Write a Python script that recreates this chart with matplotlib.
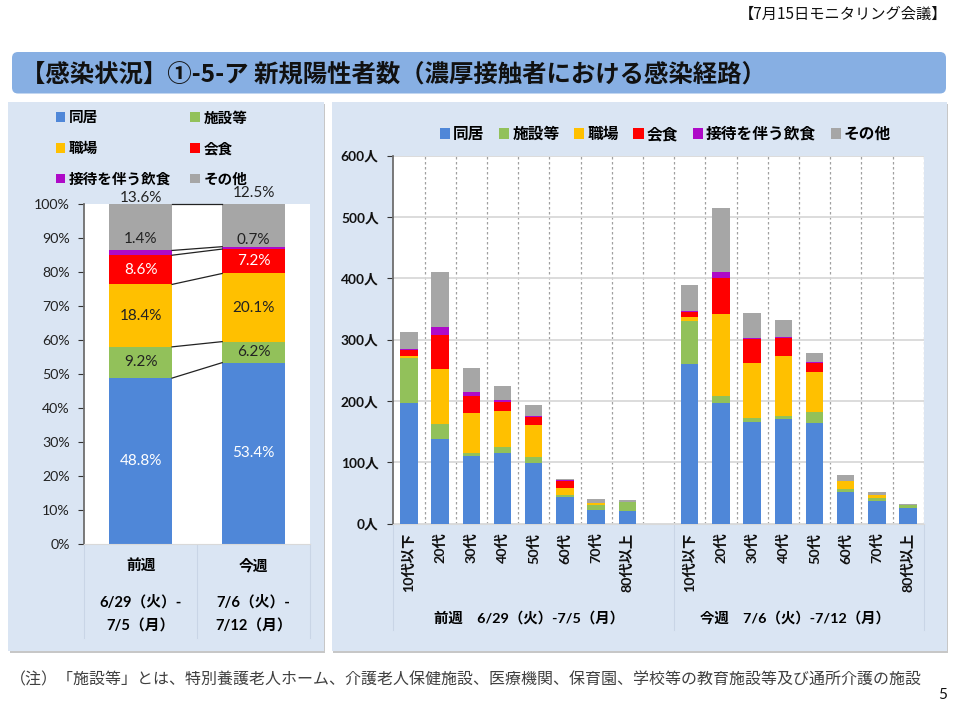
import numpy as np
import matplotlib
matplotlib.use("Agg")
import matplotlib.pyplot as plt
from matplotlib.patches import FancyBboxPatch, Rectangle, Patch

plt.rcParams['font.family'] = ['Lato', 'Noto Sans CJK JP', 'DejaVu Sans']

# ---------- data ----------
series_names = ['同居', '施設等', '職場', '会食', '接待を伴う飲食', 'その他']
series_colors = ['#4F87D8', '#92C15A', '#FFC000', '#FF0000', '#AE0AC8', '#A6A6A6']

share_weeks = ['前週', '今週']
share_prev = [48.8, 9.2, 18.4, 8.6, 1.4, 13.6]
share_curr = [53.4, 6.2, 20.1, 7.2, 0.7, 12.5]

age_labels = ['10代以下', '20代', '30代', '40代', '50代', '60代', '70代', '80代以上']

prev_dokyo = [197, 138, 111, 115, 99, 43, 22, 21]
prev_shisetsu = [73, 24, 4, 10, 9, 4, 8, 15]
prev_shokuba = [3, 90, 65, 59, 53, 12, 4, 0]
prev_kaishoku = [11, 55, 29, 15, 13, 11, 0, 0]
prev_settai = [1, 14, 6, 2, 1, 1, 0, 0]
prev_other = [27, 89, 39, 23, 18, 2, 6, 3]

curr_dokyo = [261, 196, 166, 170, 165, 52, 37, 25]
curr_shisetsu = [70, 13, 7, 5, 17, 5, 5, 5]
curr_shokuba = [6, 133, 89, 99, 66, 12, 4, 0]
curr_kaishoku = [8, 59, 39, 29, 14, 0, 0, 0]
curr_settai = [1, 9, 2, 1, 2, 0, 0, 0]
curr_other = [43, 104, 40, 28, 15, 10, 6, 2]

# ---------- figure ----------
W, H = 955, 710
fig = plt.figure(figsize=(W / 100, H / 100), dpi=100, facecolor='white')


def axes_px(x0, y0, x1, y1, **kw):
    return fig.add_axes([x0 / W, 1 - y1 / H, (x1 - x0) / W, (y1 - y0) / H], **kw)


bg = fig.add_axes([0, 0, 1, 1], zorder=-1)
bg.set_xlim(0, W)
bg.set_ylim(H, 0)
bg.axis('off')

PANEL = '#DAE5F3'
for x0, x1 in [(8, 323.5), (331.5, 946.5)]:
    bg.add_patch(Rectangle((x0 + 1.5, 103.5), x1 - x0, 549, fc='#9A9A9A', ec='none', alpha=0.55))
    bg.add_patch(Rectangle((x0, 102), x1 - x0, 549, fc=PANEL, ec='none'))
bg.add_patch(FancyBboxPatch((12 + 6, 52 + 6), 934 - 12, 41.5 - 12,
                            boxstyle='round,pad=6,rounding_size=6', fc='#87AFE3', ec='none'))
bg.text(20.5, 74.5, '【感染状況】①-5-ア 新規陽性者数（濃厚接触者における感染経路）',
        fontsize=17.55, fontweight='bold', color='#111111', va='center', ha='left',
        family=['Noto Sans CJK JP'])
bg.text(947.5, 14.5, '【7月15日モニタリング会議】', fontsize=11, color='#111111',
        va='center', ha='right', family=['Noto Sans CJK JP'])
bg.text(10, 680, '（注）「施設等」とは、特別養護老人ホーム、介護老人保健施設、医療機関、保育園、学校等の教育施設等及び通所介護の施設',
        fontsize=11.5, color='#404040', va='center', ha='left', family=['Noto Sans CJK JP'])
bg.text(947, 695, '5', fontsize=11, color='#111111', va='center', ha='right')

# separators under the axes
for x in (84.3, 197.2, 310):
    bg.plot([x, x], [544, 638], color='#C9D5E6', lw=0.8)
for x in (393.3, 673.5, 923.7):
    bg.plot([x, x], [524, 630], color='#C9D5E6', lw=0.8)

# left period captions
week_dates = [['6/29（火）-', '7/5（月）'], ['7/6（火）-', '7/12（月）']]
for cx, week, dates in zip((140.7, 253.6), share_weeks, week_dates):
    bg.text(cx, 566, week, fontsize=10.6, fontweight='bold', ha='center', va='center')
    bg.text(cx, 602.5, dates[0], fontsize=10.6, fontweight='bold', ha='center', va='center')
    bg.text(cx, 626.5, dates[1], fontsize=10.6, fontweight='bold', ha='center', va='center')

bg.text(529, 617.5, '前週　6/29（火）-7/5（月）', fontsize=10.4, fontweight='bold', ha='center', va='center')
bg.text(794.5, 617.5, '今週　7/6（火）-7/12（月）', fontsize=10.4, fontweight='bold', ha='center', va='center')

# ---------- left: 100 % stacked ----------
axl = axes_px(84.3, 204.3, 310, 543.7, facecolor='white')
axl.set_xlim(-0.5, 1.5)
axl.set_ylim(0, 100)
share = np.array([share_prev, share_curr], dtype=float)
share_norm = share / share.sum(axis=1, keepdims=True) * 100
cum = np.cumsum(share_norm, axis=1)
barw = 0.556
xpos = np.arange(2)
for i, (name, col) in enumerate(zip(series_names, series_colors)):
    bottom = cum[:, i] - share_norm[:, i]
    axl.bar(xpos, share_norm[:, i], bottom=bottom, width=barw, color=col, zorder=2)
    axl.plot([xpos[0] + barw / 2, xpos[1] - barw / 2], cum[:, i], color='#222222', lw=0.9, zorder=3,
             clip_on=False)
    for j in range(2):
        dy = 0
        if i == 4:
            dy = (14, 7.5)[j]
        anchor = bottom[j] + share_norm[j, i] / 2
        if i == 5:
            anchor, dy = 100, (6, 11)[j]
        color = 'white' if i in (0, 3) else '#222222'
        axl.annotate(f'{share[j, i]:.1f}%', (xpos[j], anchor), xytext=(0, dy),
                     textcoords='offset pixels', ha='center', va='center',
                     fontsize=11, color=color, zorder=4, annotation_clip=False)
axl.set_yticks(np.arange(0, 101, 10))
axl.set_yticklabels([f'{v}%' for v in range(0, 101, 10)], fontsize=10.2, color='#222222')
axl.tick_params(axis='y', length=4, width=0.8, pad=6.5, color='#333333')
axl.set_xticks([])
for s in ('top', 'right'):
    axl.spines[s].set_visible(False)
axl.spines['left'].set_color('#6E6E6E')
axl.spines['left'].set_linewidth(1.3)
axl.spines['bottom'].set_color('#D9D9D9')

handles = [Patch(fc=c, ec='none', label=n) for n, c in zip(series_names, series_colors)]
order = [0, 2, 4, 1, 3, 5]
fig.legend([handles[k] for k in order], [series_names[k] for k in order],
           ncols=2, frameon=False, loc='center', bbox_to_anchor=(151.5 / W, 1 - 148 / H),
           prop={'family': ['Noto Sans CJK JP'], 'weight': 'bold', 'size': 10.5},
           handlelength=0.65, handleheight=0.65, handletextpad=0.25, columnspacing=1.3,
           labelspacing=1.0, borderpad=0, borderaxespad=0)

# ---------- right: stacked by age ----------
axr = axes_px(393.3, 155.7, 923.7, 523.7, facecolor='white')
prev_series = [prev_dokyo, prev_shisetsu, prev_shokuba, prev_kaishoku, prev_settai, prev_other]
curr_series = [curr_dokyo, curr_shisetsu, curr_shokuba, curr_kaishoku, curr_settai, curr_other]
xr = np.r_[np.arange(8), np.arange(9, 17)]
bottom = np.zeros(16)
for p, c, col in zip(prev_series, curr_series, series_colors):
    vals = np.r_[p, c].astype(float)
    axr.bar(xr, vals, bottom=bottom, width=0.56, color=col, zorder=3)
    bottom += vals
axr.set_xlim(-0.5, 16.5)
axr.set_ylim(0, 600)
axr.set_yticks(np.arange(0, 601, 100))
axr.set_yticklabels([f'{v}人' for v in range(0, 601, 100)], fontsize=9.9, fontweight='bold', color='#111111')
axr.set_xticks(xr)
axr.set_xticklabels(age_labels + age_labels, rotation=90, fontsize=10.3, fontweight='bold',
                    color='#111111', ha='center', va='top')
axr.set_xticks(np.arange(0.5, 17, 1), minor=True)
axr.tick_params(axis='x', which='both', length=0, pad=6.5)
axr.tick_params(axis='y', length=4, width=0.8, pad=6.5, color='#333333')
axr.grid(axis='y', color='#D9D9D9', lw=1.3, zorder=1)
axr.grid(axis='x', which='minor', color='#A0A0A0', lw=0.9, ls=(0, (2, 2)), zorder=1)
axr.set_axisbelow(True)
for s in ('top', 'right'):
    axr.spines[s].set_visible(False)
axr.spines['left'].set_color('#6E6E6E')
axr.spines['left'].set_linewidth(1.3)
axr.spines['bottom'].set_color('#D9D9D9')

fig.legend(handles, series_names, ncols=6, frameon=False, loc='center',
           bbox_to_anchor=(665.5 / W, 1 - 134 / H),
           prop={'family': ['Noto Sans CJK JP'], 'weight': 'bold', 'size': 11.3},
           handlelength=0.65, handleheight=0.65, handletextpad=0.2, columnspacing=0.92,
           borderpad=0, borderaxespad=0)

fig.savefig('out.png', dpi=100, facecolor='white')
